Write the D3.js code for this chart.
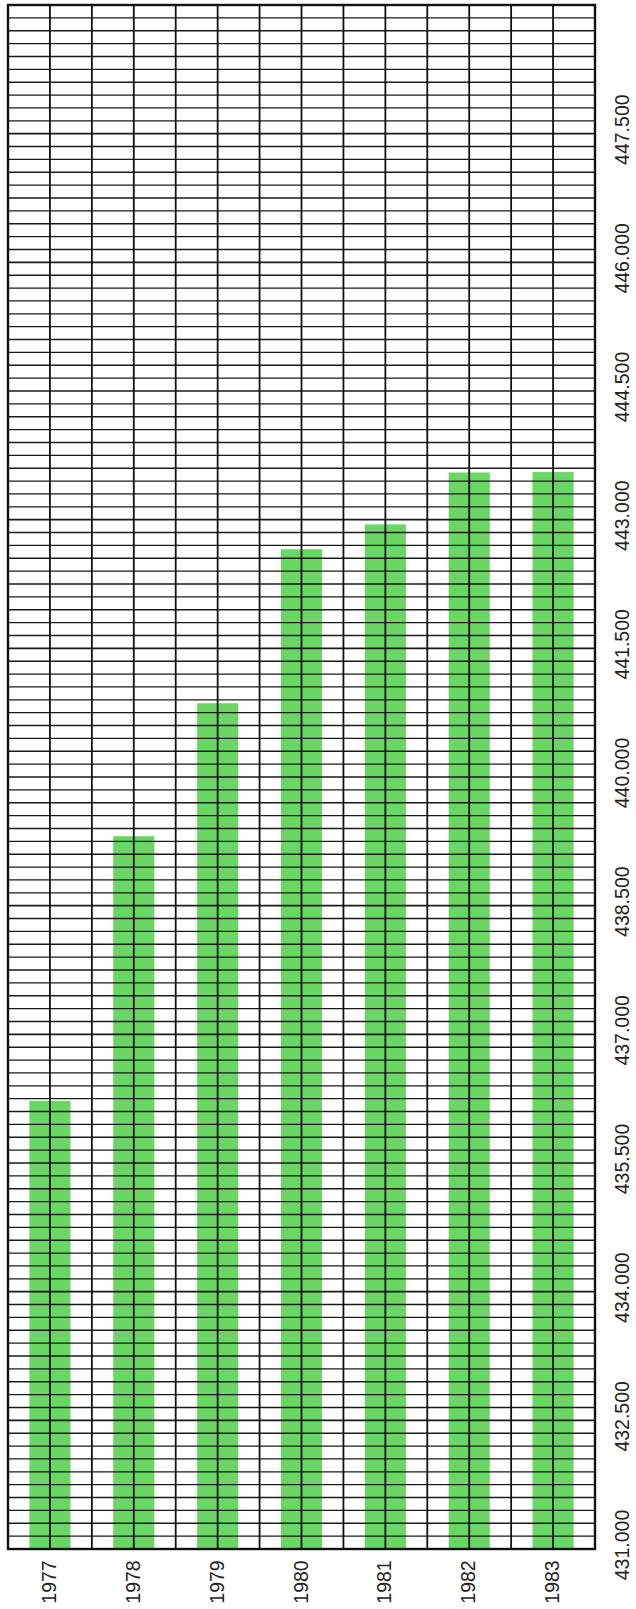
<!DOCTYPE html>
<html>
<head>
<meta charset="utf-8">
<script src="https://cdn.jsdelivr.net/npm/d3@7"></script>
<style>
    html, body { margin: 0; padding: 0; background: #fff; }
    .label { font-family: "Liberation Sans", Arial, sans-serif; font-size: 19.5px; fill: #222; }
</style>
</head>
<body>
<div id="chart"></div>
<script>

// data
var years = ['1977', '1978', '1979', '1980', '1981', '1982', '1983'];
var values = [436225, 439310, 440860, 442655, 442945, 443550, 443555];
var tickValues = [431000, 432500, 434000, 435500, 437000, 438500, 440000, 441500, 443000, 444500, 446000, 447500];
var valueDomain = [431000, 449000];
var gridStep = 150;

function columnChart(options) {

    const {
        parentId = 'chart',
        width = 636,
        height = 1609,
        plot = { left: 8, right: 595, top: 5, bottom: 1549 },
        barColor = '#6ad765'
    } = options;

    var svg = d3.select('#' + parentId)
        .append('svg')
        .attr('width', width)
        .attr('height', height);

    var x = d3.scaleBand().domain(years).range([plot.left, plot.right]).padding(0);
    var y = d3.scaleLinear().domain(valueDomain).range([plot.bottom, plot.top]);

    var half = x.bandwidth() / 2;
    var barW = half * 0.98;

    // bars (under the grid)
    svg.append('g')
        .selectAll('rect')
        .data(years)
        .enter().append('rect')
        .attr('x', (d) => x(d) + half - barW / 2)
        .attr('width', barW)
        .attr('y', (d, i) => y(values[i]))
        .attr('height', (d, i) => y(valueDomain[0]) - y(values[i]))
        .attr('fill', barColor);

    // horizontal grid, slightly heavier at labelled values
    var gridVals = d3.range(valueDomain[0], valueDomain[1] + 1, gridStep);
    svg.append('g')
        .selectAll('line')
        .data(gridVals)
        .enter().append('line')
        .attr('x1', plot.left)
        .attr('x2', plot.right)
        .attr('y1', (d) => y(d))
        .attr('y2', (d) => y(d))
        .attr('stroke', '#1a1a1a')
        .attr('stroke-width', (d) => tickValues.indexOf(d) >= 0 ? 1.7 : 1.35);

    // vertical grid: column edges and centres
    var vx = [];
    years.forEach((yr) => { vx.push(x(yr)); vx.push(x(yr) + half); });
    vx.push(plot.right);
    svg.append('g')
        .selectAll('line')
        .data(vx)
        .enter().append('line')
        .attr('x1', (d) => d)
        .attr('x2', (d) => d)
        .attr('y1', plot.top)
        .attr('y2', plot.bottom)
        .attr('stroke', '#111')
        .attr('stroke-width', 1.8);

    svg.append('rect')
        .attr('x', plot.left)
        .attr('y', plot.top)
        .attr('width', plot.right - plot.left)
        .attr('height', plot.bottom - plot.top)
        .attr('fill', 'none')
        .attr('stroke', '#111')
        .attr('stroke-width', 2.4);

    // year labels, rotated
    svg.append('g')
        .selectAll('text')
        .data(years)
        .enter().append('text')
        .attr('class', 'label')
        .attr('transform', (d) => 'translate(' + (x(d) + half - 1) + ',1582) rotate(-90)')
        .attr('text-anchor', 'middle')
        .attr('dy', '0.36em')
        .text((d) => d);

    // value labels on the right, rotated
    svg.append('g')
        .selectAll('text')
        .data(tickValues)
        .enter().append('text')
        .attr('class', 'label')
        .attr('transform', (d) => 'translate(622,' + (y(d) - 4) + ') rotate(-90)')
        .attr('text-anchor', 'middle')
        .attr('dy', '0.36em')
        .text((d) => (d / 1000).toFixed(3));

    return {
        chart: svg
    };
}

columnChart({});

</script>
</body>
</html>
